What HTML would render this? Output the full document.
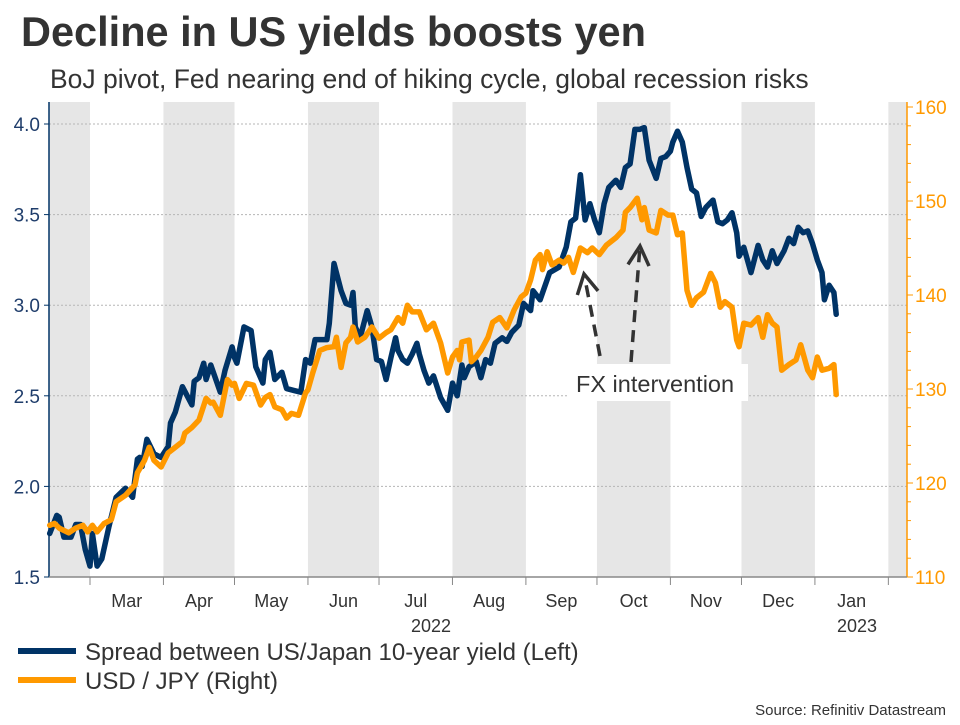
<!DOCTYPE html>
<html><head><meta charset="utf-8"><style>
body{margin:0;background:#fff;width:960px;height:720px;overflow:hidden;font-family:"Liberation Sans",sans-serif}
svg text{font-family:"Liberation Sans",sans-serif}
</style></head><body>
<svg id="c" width="960" height="720">
<text x="21" y="46" font-size="41.5" font-weight="bold" fill="#333">Decline in US yields boosts yen</text>
<text x="50" y="88" font-size="26.5" fill="#333">BoJ pivot, Fed nearing end of hiking cycle, global recession risks</text>
<g id="bands"></g><g id="grid"></g><g id="axes"></g><g id="series"></g><g id="annot"></g>
<g>
<line x1="18" y1="651" x2="76" y2="651" stroke="#003366" stroke-width="6"/>
<text x="85" y="660" font-size="24" fill="#333">Spread between US/Japan 10-year yield (Left)</text>
<line x1="18" y1="680" x2="76" y2="680" stroke="#ff9900" stroke-width="6"/>
<text x="85" y="689" font-size="24" fill="#333">USD / JPY (Right)</text>
</g>
<text x="946" y="715" font-size="15" fill="#333" text-anchor="end">Source: Refinitiv Datastream</text>
</svg>
<script>
// days since 1 Mar 2022
const spreadDays=[-17,-14,-13,-11,-8,-6,-4,-2,0,1,3,5,8,11,15,18,20,21,22,24,27,30,33,34,36,39,43,44,46,48,49,51,55,57,60,61,62,65,68,70,73,74,76,78,81,83,86,89,91,93,95,98,100,101,103,106,108,110,111,112,114,117,119,121,123,125,127,129,130,132,134,136,138,139,141,143,145,148,151,153,155,157,158,160,163,165,167,169,171,174,176,178,181,183,186,187,190,194,198,201,203,205,207,209,211,213,215,217,219,222,224,226,228,230,232,234,236,239,241,243,245,246,248,250,252,254,256,258,260,263,265,267,269,271,273,274,276,279,282,284,286,288,290,293,295,297,299,301,303,305,307,309,310,312,314,315];
const spreadValues=[1.74,1.84,1.83,1.72,1.72,1.79,1.79,1.65,1.56,1.74,1.56,1.60,1.78,1.94,1.99,1.94,2.15,2.16,2.11,2.26,2.18,2.16,2.22,2.35,2.41,2.55,2.45,2.58,2.60,2.68,2.59,2.67,2.52,2.64,2.77,2.71,2.68,2.88,2.86,2.66,2.57,2.70,2.74,2.59,2.63,2.54,2.53,2.52,2.70,2.68,2.81,2.81,2.81,2.90,3.23,3.08,3.01,3.00,3.07,2.88,2.82,2.97,2.88,2.70,2.69,2.59,2.71,2.82,2.75,2.70,2.68,2.73,2.79,2.73,2.64,2.57,2.61,2.49,2.42,2.57,2.50,2.67,2.60,2.66,2.69,2.60,2.70,2.68,2.79,2.82,2.80,2.85,2.89,3.01,2.97,3.08,3.03,3.18,3.21,3.32,3.46,3.48,3.72,3.47,3.56,3.47,3.40,3.56,3.65,3.69,3.65,3.76,3.78,3.97,3.97,3.98,3.80,3.70,3.81,3.82,3.85,3.90,3.96,3.90,3.76,3.64,3.62,3.49,3.54,3.58,3.46,3.45,3.47,3.51,3.40,3.27,3.32,3.18,3.33,3.25,3.21,3.30,3.23,3.30,3.37,3.34,3.43,3.40,3.41,3.34,3.25,3.18,3.03,3.11,3.07,2.95];
const jpyDays=[-17,-15,-13,-9,-6,-3,-1,1,3,6,9,11,15,19,20,23,25,27,30,33,36,39,40,43,46,49,51,52,55,58,60,61,63,66,69,72,74,76,78,81,83,85,88,91,92,94,97,100,103,104,106,108,110,111,113,116,119,122,125,127,130,132,134,136,139,142,145,148,151,153,155,156,157,160,161,163,165,168,170,173,176,179,182,184,186,188,190,191,193,195,198,200,202,204,207,210,212,215,218,222,225,226,228,231,233,234,236,239,241,244,246,248,250,252,254,256,259,262,264,266,268,271,273,274,276,279,282,284,286,288,290,292,295,298,300,303,305,307,309,312,314,315];
const jpyValues=[115.5,115.7,115.2,114.7,115.2,115.5,114.8,115.5,114.8,115.7,116.1,118.0,118.7,119.8,121.1,122.4,123.8,122.4,121.7,123.2,123.8,124.4,125.3,125.9,126.7,129.0,128.5,128.6,127.2,131.0,130.4,130.6,129.0,130.6,130.4,128.3,129.1,129.4,128.1,127.8,126.9,127.4,127.2,129.6,129.9,131.7,134.1,134.4,134.5,135.5,132.3,134.9,135.5,136.6,135.0,135.5,136.6,135.4,136.0,136.3,137.6,137.0,138.9,138.2,138.2,136.3,137.0,134.9,131.7,133.4,134.1,133.1,135.0,135.2,132.9,133.4,134.1,135.5,137.1,137.6,136.5,138.4,139.8,140.2,141.6,143.7,144.3,142.7,144.6,143.2,143.7,143.4,144.0,142.4,145.0,144.5,145.0,144.3,145.3,146.1,146.9,148.8,149.3,150.3,148.0,149.3,146.9,146.6,149.0,148.5,148.5,146.4,146.6,140.5,138.9,139.7,140.3,142.3,141.3,138.7,139.3,138.7,135.2,134.5,137.0,136.8,137.6,135.5,137.9,137.0,136.6,132.0,132.6,133.1,134.7,132.0,131.2,133.4,132.0,132.2,132.6,129.4];
const leftTicks=[1.5,2.0,2.5,3.0,3.5,4.0];
const rightTicks=[110,120,130,140,150,160];
const monthLabels=["Mar","Apr","May","Jun","Jul","Aug","Sep","Oct","Nov","Dec","Jan"];
const monthStartDays=[0,31,61,92,122,153,184,214,245,275,306,337];
const yearLabels=["2022","2023"];

const NS="http://www.w3.org/2000/svg";
const X0=49,X1=907,YT=102,YB=577;
const xS=d=>90+d*2.369;
const yL=v=>577-(v-1.5)*181.2;
const yR=v=>577-(v-110)*9.4;
function mk(tag,attrs,parent,text){const e=document.createElementNS(NS,tag);for(const k in attrs)e.setAttribute(k,attrs[k]);if(text!=null)e.textContent=text;parent.appendChild(e);return e;}
const bands=document.getElementById('bands'),grid=document.getElementById('grid'),axes=document.getElementById('axes'),series=document.getElementById('series'),annot=document.getElementById('annot');

const bandIdx=[[-28,0],[31,61],[92,122],[153,184],[214,245],[275,306],[337,365]];
bandIdx.forEach(b=>{const a=Math.max(X0,xS(b[0])),e=Math.min(X1,xS(b[1]));
const r=mk('rect',{x:a,y:YT,width:e-a,height:YB-YT,fill:'#e6e6e6'},bands);

});

leftTicks.forEach(v=>{const y=yL(v);
if(v>1.5){const g=mk('line',{x1:X0,x2:X1,y1:y,y2:y,stroke:'#b5b5b5','stroke-dasharray':'2,2','stroke-width':1},grid);

}
mk('line',{x1:X0-5,x2:X0,y1:y,y2:y,stroke:'#003366'},axes);
const t=mk('text',{x:X0-9,y:y+7,'font-size':19,fill:'#1f3d6b','text-anchor':'end'},axes,v.toFixed(1));

});
for(let v=110;v<=160;v+=2){const y=yR(v);mk('line',{x1:X1,x2:X1+(v%10===0?6:4),y1:y,y2:y,stroke:'#ff9900'},axes);}
rightTicks.forEach(v=>{const y=yR(v);
const t=mk('text',{x:X1+8,y:y+7,'font-size':19,fill:'#ff9900'},axes,v);

});
const la=mk('line',{x1:X0,x2:X0,y1:YT,y2:YB,stroke:'#003366','stroke-width':1.5},axes);


const ra=mk('line',{x1:X1,x2:X1,y1:YT,y2:YB,stroke:'#ff9900','stroke-width':1.5},axes);


const xa=mk('line',{x1:X0,x2:X1,y1:YB,y2:YB,stroke:'#888','stroke-width':1.5},axes);


monthStartDays.forEach(d=>mk('line',{x1:xS(d),x2:xS(d),y1:YB,y2:YB+8,stroke:'#888'},axes));
monthLabels.forEach((m,i)=>{const cx=(xS(monthStartDays[i])+xS(monthStartDays[i+1]))/2;
const t=mk('text',{x:cx,y:607,'font-size':18,fill:'#333','text-anchor':'middle'},axes,m);

});
const y1=mk('text',{x:431,y:632,'font-size':18,fill:'#333','text-anchor':'middle'},axes,yearLabels[0]);


const y2=mk('text',{x:857,y:632,'font-size':18,fill:'#333','text-anchor':'middle'},axes,yearLabels[1]);



function line(days,vals,ys,col,name){const p=days.map((d,i)=>xS(d).toFixed(1)+','+ys(vals[i]).toFixed(1)).join(' ');
const e=mk('polyline',{points:p,fill:'none',stroke:col,'stroke-width':5.5,'stroke-linejoin':'round','stroke-linecap':'round'},series);

}
line(spreadDays,spreadValues,yL,'#003366','spread-line');
line(jpyDays,jpyValues,yR,'#ff9900','usdjpy-line');

const box=mk('rect',{x:568,y:364,width:180,height:37,fill:'#fff'},annot);


const at=mk('text',{x:576,y:392,'font-size':23.5,fill:'#333'},annot,'FX intervention');


[[600,356,584,274],[631,362,640,246]].forEach(a=>{
const l=mk('line',{x1:a[0],y1:a[1],x2:a[2],y2:a[3],stroke:'#333','stroke-width':3.5,'stroke-dasharray':'12,8'},annot);


const ang=Math.atan2(a[1]-a[3],a[0]-a[2]);const L=22,s=0.5;
const p1=[a[2]+L*Math.cos(ang-s),a[3]+L*Math.sin(ang-s)],p2=[a[2]+L*Math.cos(ang+s),a[3]+L*Math.sin(ang+s)];
mk('polyline',{points:`${p1} ${a[2]},${a[3]} ${p2}`,fill:'none',stroke:'#333','stroke-width':3.5},annot);});
</script>
</body></html>
